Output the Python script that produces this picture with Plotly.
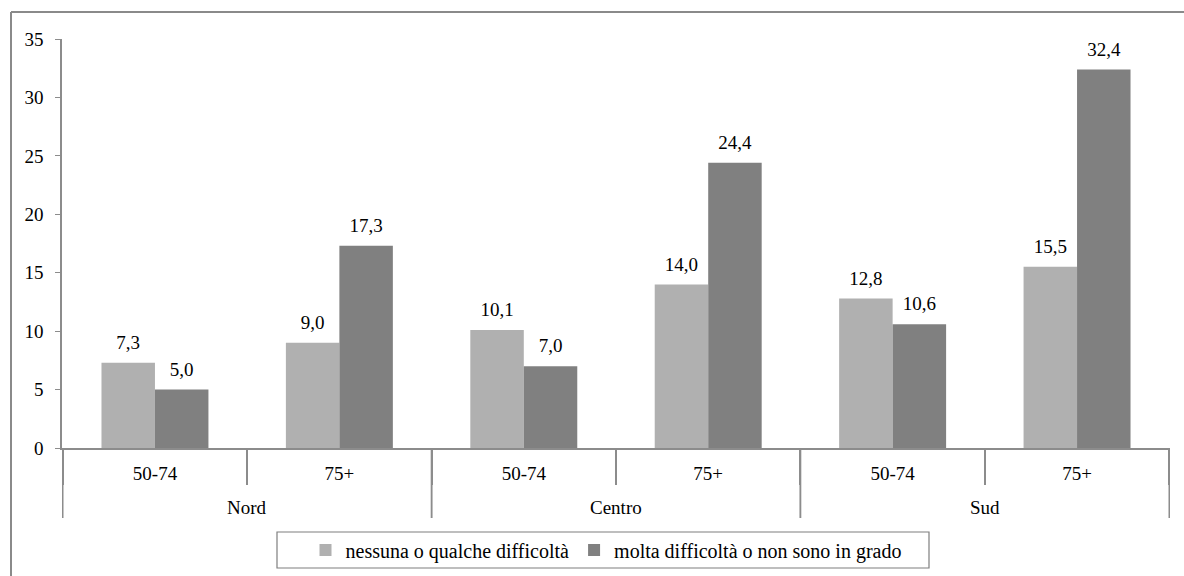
import plotly.graph_objects as go

regions = ["Nord", "Nord", "Centro", "Centro", "Sud", "Sud"]
ages = ["50-74", "75+", "50-74", "75+", "50-74", "75+"]
series_names = ["nessuna o qualche difficoltà", "molta difficoltà o non sono in grado"]
light_vals = [7.3, 9.0, 10.1, 14.0, 12.8, 15.5]
dark_vals = [5.0, 17.3, 7.0, 24.4, 10.6, 32.4]
y_ticks = [0, 5, 10, 15, 20, 25, 30, 35]

FONT = "Times New Roman, Liberation Serif, DejaVu Serif, serif"
GRAY = "#8c8c8c"
FS = 19

keys = [f"{r} {a}" for r, a in zip(regions, ages)]

fig = go.Figure()
series = [(series_names[0], light_vals, "#b0b0b0"),
          (series_names[1], dark_vals, "#808080")]
for i, (name, vals, col) in enumerate(series):
    fig.add_trace(go.Bar(
        x=keys, y=vals, name=name, offsetgroup=str(i),
        marker=dict(color=col, line=dict(width=0)),
        hoverinfo="skip",
    ))
# value labels (grouped scatter so they sit above each bar)
for i, (name, vals, col) in enumerate(series):
    fig.add_trace(go.Scatter(
        x=keys, y=vals, mode="markers+text", offsetgroup=str(i),
        text=[f"{v:.1f}".replace(".", ",") for v in vals],
        textposition="top center",
        textfont=dict(family=FONT, size=FS, color="#000"),
        marker=dict(size=13, opacity=0), showlegend=False, hoverinfo="skip",
        cliponaxis=False,
    ))

L, R, T, B = 62, 14, 39, 128
W, H = 1184, 576
pw, ph = W - L - R, H - T - B

fig.update_layout(
    width=W, height=H,
    margin=dict(l=L, r=R, t=T, b=B, autoexpand=False),
    paper_bgcolor="white", plot_bgcolor="white",
    barmode="group", bargap=0.42, bargroupgap=0,
    scattermode="group", scattergap=0.42,
    font=dict(family=FONT, size=FS, color="#000"),
    showlegend=True,
    legend=dict(orientation="h", x=(606 - L) / pw, xanchor="center",
                y=(448 - 550) / ph, yanchor="middle",
                bgcolor="rgba(0,0,0,0)", borderwidth=0,
                font=dict(family=FONT, size=20, color="#000"),
                itemwidth=30, tracegroupgap=0),
    xaxis=dict(type="category", tickvals=keys, ticktext=ages,
               showline=True, linecolor=GRAY, linewidth=1.5,
               ticks="outside", tickson="boundaries", ticklen=35, tickcolor=GRAY,
               tickwidth=1.5, ticklabelstandoff=7,
               showgrid=False, tickfont=dict(family=FONT, size=FS, color="#000")),
    yaxis=dict(range=[0, 35], tickvals=y_ticks, showline=True, linecolor=GRAY,
               linewidth=1.5, ticks="outside", ticklen=5, tickcolor=GRAY,
               ticklabelstandoff=8,
               showgrid=False, zeroline=False, tickfont=dict(family=FONT, size=FS, color="#000")),
)

# region level of the category axis: long dividers + centred labels
div_bottom = (448 - 518) / ph
label_y = (448 - 507) / ph
seen = []
for r in regions:
    if r not in seen:
        seen.append(r)
for r in seen:
    idx = [i for i, rr in enumerate(regions) if rr == r]
    lo, hi = min(idx) - 0.5, max(idx) + 0.5
    for xb in (lo, hi):
        fig.add_shape(type="line", xref="x", yref="paper", x0=xb, x1=xb,
                      y0=0, y1=div_bottom, line=dict(color=GRAY, width=1.5))
    fig.add_annotation(x=(lo + hi) / 2, xref="x", y=label_y, yref="paper",
                       text=r, showarrow=False, yanchor="middle",
                       font=dict(family=FONT, size=FS, color="#000"))

# legend frame
fig.add_shape(type="rect", xref="paper", yref="paper",
              x0=(277 - L) / pw, x1=(929 - L) / pw,
              y0=(448 - 532) / ph, y1=(448 - 568) / ph,
              line=dict(color="#7f7f7f", width=1.2), fillcolor="rgba(0,0,0,0)")

# outer frame (top and left edges visible in the reference)
xl = (11 - L) / pw
xr = (W - L) / pw
yt = (448 - 12) / ph
yb = (448 - H) / ph
fig.add_shape(type="line", xref="paper", yref="paper", x0=xl, x1=xr, y0=yt, y1=yt,
              line=dict(color="#8a8a8a", width=2))
fig.add_shape(type="line", xref="paper", yref="paper", x0=xl, x1=xl, y0=yt, y1=yb,
              line=dict(color="#8a8a8a", width=2))

fig.write_html("out.html", config={"displayModeBar": False},
               post_script="document.body.style.margin='0';")
